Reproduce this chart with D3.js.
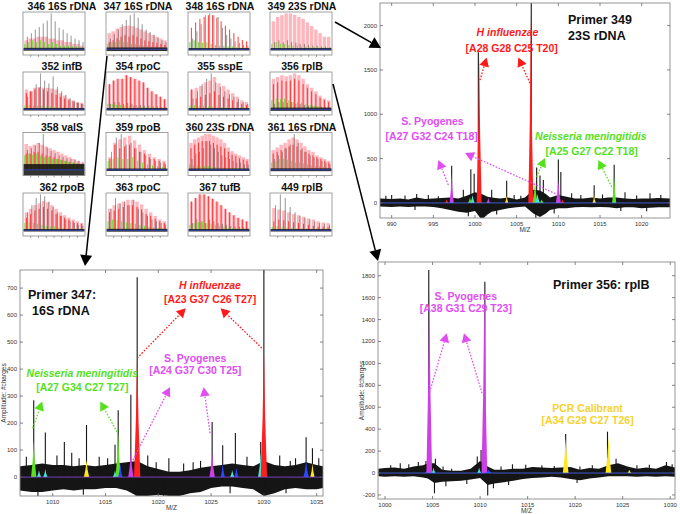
<!DOCTYPE html>
<html>
<head>
<meta charset="utf-8">
<script src="https://cdn.jsdelivr.net/npm/d3@7"></script>
<style>
  body { margin: 0; background: #fff; }
  text { font-family: "Liberation Sans", Arial, sans-serif; }
</style>
</head>
<body>
<svg id="fig" width="680" height="514"></svg>
<script>
// ---------- thumbnail data (heights as share of the panel height) ----------
const thumbTitles = ["346 16S rDNA", "347 16S rDNA", "348 16S rDNA", "349 23S rDNA",
                     "352 infB", "354 rpoC", "355 sspE", "356 rplB",
                     "358 valS", "359 rpoB", "360 23S rDNA", "361 16S rDNA",
                     "362 rpoB", "363 rpoC", "367 tufB", "449 rplB"];

const thumbPink = [
  [0.25,0.3,0.3,0.35,0.35,0.35,0.3,0.3,0.25,0.25,0.2,0.2,0.15,0.15,0.1],
  [0.45,0.5,0.58,0.62,0.65,0.66,0.64,0.6,0.55,0.5,0.45,0.4,0.35,0.3,0.25],
  [],
  [0.78,0.9,0.95,1.0,1.0,0.96,0.9,0.85,0.75,0.65,0.55,0.45,0.35,0.35],
  [0.55,0.5,0.6,0.62,0.6,0.6,0.58,0.55,0.45,0.38,0.3,0.25,0.2,0.18],
  [0.7,0.8,0.85,0.85,0.95,0.9,0.85,0.8,0.75,0.6,0.5,0.42,0.35,0.28],
  [0.55,0.6,0.65,0.75,0.8,0.9,0.72,0.65,0.55,0.45,0.35,0.25,0.2],
  [0.85,0.9,0.95,0.92,0.95,1.0,0.95,0.85,0.7,0.6,0.5,0.38,0.3,0.25],
  [0.72,0.66,0.7,0.75,0.7,0.65,0.6,0.55,0.5,0.45,0.4,0.35,0.3,0.25,0.2],
  [0.35,0.75,0.85,0.9,0.95,0.82,0.7,0.55,0.45,0.35,0.3,0.25],
  [0.75,0.85,0.9,0.95,1.0,1.0,0.95,0.9,0.85,0.75,0.62,0.52,0.45,0.4,0.35,0.3],
  [0.55,0.62,0.7,0.75,0.85,0.9,0.85,0.75,0.65,0.55,0.5,0.4,0.35,0.3,0.25],
  [0.5,0.6,0.7,0.75,0.82,0.78,0.7,0.6,0.5,0.42,0.35,0.3,0.25,0.2],
  [0.6,0.7,0.75,0.8,0.85,0.85,0.8,0.72,0.6,0.5,0.4,0.3,0.25],
  [0.8,0.9,1.0,1.0,0.95,0.88,0.8,0.7,0.6,0.5,0.42,0.35,0.3,0.25],
  [0.62,0.58,0.55,0.5,0.45,0.42,0.38,0.33,0.3,0.25,0.22,0.2]
];
const thumbRed = [
  [],
  [0.2,0.25,0.3,0.35,0.4,0.35,0.4,0.35,0.3,0.25,0.22,0.2,0.18,0.15,0.12],
  [0.6,0.75,0.85,0.9,0.95,0.95,0.88,0.78,0.66,0.55,0.45,0.35,0.26,0.22],
  [],
  [0.45,0.5,0.55,0.6,0.55,0.5,0.45,0.4,0.35,0.3,0.25,0.22,0.18,0.15],
  [0.7,0.8,0.85,0.85,0.95,0.9,0.85,0.8,0.75,0.6,0.5,0.42,0.35,0.28],
  [0.55,0.3,0.35,0.4,0.45,0.5,0.4,0.35,0.3,0.25,0.2,0.15,0.12],
  [0.7,0.75,0.8,0.78,0.8,0.85,0.8,0.7,0.6,0.5,0.42,0.32,0.26,0.2],
  [0.45,0.45,0.5,0.5,0.45,0.4,0.38,0.35,0.3,0.28,0.25,0.22,0.2,0.18,0.15],
  [0.3,0.7,0.6,0.65,0.7,0.6,0.5,0.45,0.35,0.3,0.25,0.2],
  [0.6,0.7,0.75,0.8,0.8,0.8,0.75,0.7,0.65,0.6,0.5,0.42,0.38,0.32,0.28,0.25],
  [0.45,0.5,0.55,0.6,0.65,0.7,0.65,0.55,0.5,0.45,0.4,0.35,0.3,0.25,0.2],
  [0.35,0.45,0.55,0.6,0.65,0.6,0.55,0.45,0.4,0.35,0.3,0.25,0.2,0.18],
  [0.5,0.55,0.6,0.65,0.7,0.7,0.65,0.58,0.45,0.4,0.32,0.25,0.2],
  [0.8,0.9,1.0,1.0,0.95,0.88,0.8,0.7,0.6,0.5,0.42,0.35,0.3,0.25],
  [0.25,0.3,0.28,0.25,0.22,0.2,0.18,0.15,0.12,0.1,0.1,0.08]
];
const thumbDark = [
  [0.35,0.45,0.55,0.62,0.72,0.8,1.0,0.78,0.6,0.55,0.45,0.38,0.3,0.25,0.2],
  [0.3,0.42,0.55,0.7,0.82,0.95,1.0,0.88,0.7,0.55,0.48,0.4,0.32,0.25,0.2],
  [0.3,0.5,0.7,0.95,1.0,0.95,0.9,0.6,0.4,0.3,0.22,0.18,0.12,0.1],
  [0.2,0.25,0.2,0.25,0.2,0.18,0.15,0.15,0.12,0.1,0.1,0.08,0.08,0.06],
  [0.35,0.5,0.7,1.0,0.8,0.72,0.92,0.62,0.5,0.4,0.3,0.22,0.18,0.15],
  [0.15,0.2,0.2,0.15,0.18,0.15,0.12,0.12,0.1,0.1,0.08,0.08,0.06,0.06],
  [0.3,0.5,0.7,0.85,1.0,0.75,0.62,0.5,0.42,0.35,0.28,0.2,0.15],
  [0.15,0.2,0.2,0.18,0.2,0.15,0.15,0.12,0.1,0.1,0.08,0.08,0.06,0.06],
  [0.55,0.6,0.68,0.75,1.0,0.62,0.52,0.46,0.4,0.36,0.32,0.3,0.28,0.25,0.22],
  [0.5,0.9,1.0,0.7,0.75,0.6,0.5,0.4,0.3,0.25,0.2,0.15],
  [0.3,0.45,0.5,0.6,0.8,0.7,0.6,0.5,0.4,0.35,0.3,0.25,0.2,0.2,0.15,0.15],
  [0.3,0.4,0.5,0.6,0.7,1.0,0.75,0.6,0.5,0.4,0.35,0.3,0.25,0.2,0.15],
  [0.5,0.7,0.9,1.0,0.95,0.8,0.65,0.5,0.4,0.3,0.25,0.2,0.15,0.12],
  [0.6,0.9,0.75,0.8,0.7,0.85,0.6,0.5,0.4,0.3,0.25,0.2,0.15],
  [0.2,0.3,0.25,0.2,0.3,0.25,0.2,0.18,0.15,0.12,0.1,0.1,0.08,0.06],
  [0.7,1.0,0.9,0.65,0.5,0.4,0.35,0.3,0.25,0.2,0.18,0.15]
];
const thumbGreen = [
  [0.15,0.2,0.25,0.2,0.25,0.2,0.15,0.2,0.15,0.1,0.1,0.1,0.08,0.08,0.05],
  [0.15,0.2,0.2,0.25,0.2,0.2,0.15,0.15,0.12,0.1,0.1,0.08,0.08,0.06,0.05],
  [0.2,0.25,0.2,0.18,0.2,0.15,0.12,0.1,0.1,0.08,0.08,0.06,0.05,0.05],
  [0.15,0.2,0.15,0.15,0.12,0.1,0.1,0.08,0.08,0.06,0.06,0.05,0.05,0.05],
  [0.1,0.12,0.1,0.1,0.1,0.08,0.08,0.06,0.06,0.05,0.05,0.05],
  [0.15,0.15,0.12,0.12,0.1,0.1,0.1,0.08,0.08,0.06,0.06,0.05,0.05,0.05],
  [0.1,0.12,0.1,0.1,0.08,0.08,0.06,0.06,0.05,0.05,0.05,0.05,0.05],
  [0.25,0.3,0.28,0.3,0.25,0.2,0.2,0.18,0.15,0.12,0.1,0.08,0.06,0.05],
  [0.4,0.45,0.42,0.45,0.4,0.35,0.35,0.3,0.3,0.28,0.25,0.22,0.2,0.18,0.15],
  [0.25,0.3,0.35,0.3,0.3,0.35,0.25,0.2,0.15,0.12,0.1,0.08],
  [0.15,0.12,0.12,0.1,0.1,0.1,0.08,0.08,0.06,0.06,0.05,0.05,0.05,0.05,0.05,0.05],
  [0.2,0.25,0.3,0.3,0.28,0.25,0.2,0.2,0.18,0.15,0.12,0.1,0.1,0.08,0.06],
  [0.2,0.22,0.2,0.18,0.15,0.12,0.1,0.1,0.08,0.08,0.06,0.05,0.05,0.05],
  [0.25,0.3,0.28,0.25,0.22,0.2,0.18,0.15,0.12,0.1,0.08,0.06,0.05],
  [0.15,0.2,0.22,0.25,0.2,0.18,0.15,0.12,0.1,0.08,0.06,0.05,0.05,0.05],
  [0.1,0.12,0.1,0.08,0.08,0.06,0.06,0.05,0.05,0.05,0.05,0.05]
];
const thumbNoise = [0.04,0.05,0.035,0.035,0.035,0.035,0.035,0.045,0.16,0.035,0.035,0.04,0.035,0.04,0.035,0.035];

// ---------- big spectra: [m/z, low, high] noise envelope ----------
const noise349 = [[988.6,-40,50],[990,-45,45],[991,-40,50],[992,-45,40],[993,-40,60],[994,-40,45],[995,-45,50],
  [996,-60,55],[997,-80,60],[998,-100,50],[999,-110,80],[1000,-90,120],[1000.8,-190,100],[1001.5,-130,70],
  [1002,-100,60],[1003,-80,50],[1004,-60,60],[1005,-50,40],[1006,-40,60],[1007,-120,150],[1007.8,-160,140],
  [1008.5,-120,100],[1009,-80,60],[1010,-60,90],[1011,-60,70],[1012,-50,50],[1013,-45,50],[1014,-50,60],
  [1015,-45,50],[1016,-50,60],[1017,-60,60],[1018,-50,50],[1019,-50,45],[1020,-60,50],[1021,-55,50],
  [1022,-50,55],[1023.4,-50,50]];
const noise347 = [[1006.9,-50,40],[1008,-55,45],[1009,-55,50],[1010,-50,45],[1011,-45,45],[1012,-50,40],
  [1013,-45,45],[1014,-45,40],[1015,-40,45],[1016,-40,50],[1017,-50,55],[1018,-70,60],[1019,-70,40],
  [1020,-65,30],[1021,-70,20],[1022,-70,20],[1023,-60,25],[1024,-55,35],[1025,-40,40],[1026,-35,45],
  [1027,-35,50],[1028,-40,45],[1029,-45,40],[1030,-70,60],[1031,-60,45],[1032,-45,40],[1033,-40,45],
  [1034,-45,55],[1035,-45,45],[1035.6,-40,40]];
const noise356 = [[999.3,-30,40],[1000,-35,45],[1001,-30,50],[1002,-35,40],[1003,-30,60],[1004,-40,70],
  [1004.5,-50,90],[1005.2,-90,90],[1006,-80,30],[1007,-75,20],[1008,-70,20],[1009,-60,40],[1010,-45,110],
  [1010.8,-110,60],[1011.5,-95,30],[1012.5,-85,30],[1013.5,-70,40],[1014.5,-55,40],[1015.5,-45,55],
  [1016.5,-40,50],[1017.5,-35,45],[1018.5,-40,50],[1019.5,-55,55],[1020.5,-65,30],[1021.5,-50,45],
  [1022.5,-40,40],[1023.5,-30,70],[1024.5,-30,90],[1025.5,-30,60],[1026.5,-35,40],[1027.5,-30,50],
  [1028.5,-35,40],[1029.5,-30,70],[1030.5,-35,50]];

// ---------- fitted peaks: [m/z, height, species, half width in m/z] ----------
const peaks349 = [[996.6,40,"r",0.2],[997.2,330,"m",0.25],[999.4,60,"g",0.25],[999.7,90,"c",0.25],
  [1000.5,1670,"r",0.3],[1001.6,60,"m",0.2],[1003.8,80,"y",0.2],[1006.7,2100,"r",0.3],[1007.2,250,"g",0.3],
  [1007.5,100,"c",0.3],[1008.0,40,"g",0.25],[1010.0,250,"m",0.3],[1010.5,40,"r",0.2],[1014.3,80,"y",0.2],
  [1016.7,300,"g",0.25]];
const peaks347 = [[1008.2,137,"g",0.25],[1008.7,25,"c",0.2],[1009.3,30,"c",0.2],[1013.2,63,"y",0.25],
  [1015.9,25,"c",0.2],[1016.2,163,"g",0.25],[1016.4,50,"b",0.2],[1017.4,92,"m",0.25],[1018.0,480,"r",0.3],
  [1025.1,92,"m",0.25],[1026.1,50,"b",0.2],[1027.0,25,"c",0.2],[1027.4,35,"b",0.2],[1029.7,90,"c",0.25],
  [1030.0,490,"r",0.3],[1034.0,60,"b",0.25],[1034.6,50,"y",0.2]];
const peaks356 = [[1004.5,40,"b",0.3],[1004.65,1700,"m",0.3],[1005.1,50,"c",0.2],[1009.9,50,"c",0.2],
  [1010.45,1700,"m",0.3],[1010.9,30,"b",0.3],[1019.0,316,"y",0.3],[1023.5,331,"y",0.3],[1025.7,30,"y",0.2]];

// raw-trace spikes: [m/z, top] (negative = downward)
const spikes349 = [[997.2,420],[999.5,380],[999.9,330],[1000.4,1700],[1006.75,2300],[1007.4,400],[1007.8,310],
  [1008.2,260],[1010.0,490],[1010.3,350],[1003.8,250],[1014.3,200],[1016.7,430],[1002.0,150],[998.6,150],
  [1018,120],[993,100],[990,90],[1021,110],[989.3,80],[991.6,85],[994.4,90],[995.6,75],[1004.7,90],
  [1005.5,80],[1011.6,110],[1012.7,90],[1015.3,95],[1019.4,85],[1022.3,90],[1000.9,-250],[1007.3,-200],
  [999.2,-150],[1002.6,-130],[1009.5,-120],[992.8,-80],[1017.5,-90],[1020.6,-95]];
const spikes347 = [[1008.2,285],[1009.3,165],[1011.1,130],[1013.2,193],[1016.2,248],[1017.4,305],[1018.0,740],
  [1025.1,204],[1026.1,118],[1027.3,163],[1030.0,790],[1029.7,130],[1034.0,148],[1034.6,107],[1015.9,120],
  [1011.8,90],[1021,70],[1031.5,80],[1033,70],[1024,60],[1019,80],[1012.5,70],[1032.5,60],[1007.5,75],
  [1010.4,80],[1014.4,75],[1015.2,70],[1019.8,55],[1022.4,50],[1023.3,55],[1028.4,75],[1035.2,70],
  [1018.2,-70],[1030.1,-70],[1017.9,-70],[1020.5,-70],[1008.6,-70],[1012.9,-65],[1026.8,-60],[1032.1,-60]];
const spikes356 = [[1004.6,1851],[1010.5,1744],[1005.3,130],[1004.3,110],[1010.1,210],[1009.7,150],[1019.0,355],
  [1023.4,377],[1001.6,90],[1003.5,100],[1013.4,80],[1016.5,70],[1024.3,130],[1026.5,70],[1029.6,100],
  [1020.5,60],[1007,40],[1002.5,80],[1000.6,70],[1006.1,60],[1012.2,60],[1014.8,75],[1017.8,65],
  [1021.8,70],[1027.8,75],[1030.2,80],[1005.2,-185],[1010.8,-205],[1011.4,-140],[1006.4,-120],
  [1013.0,-110],[1020.2,-90],[1008.6,-100]];

const xTicks349 = [990,995,1000,1005,1010,1015,1020];
const yTicks349 = [0,500,1000,1500,2000];
const xTicks347 = [1010,1015,1020,1025,1030,1035];
const yTicks347 = [0,100,200,300,400,500,600,700];
const xTicks356 = [1000,1005,1010,1015,1020,1025,1030];
const yTicks356 = [-200,0,200,400,600,800,1000,1200,1400,1600,1800];

const speciesColor = {r:"#ff1f1f", m:"#cf3fe6", g:"#5ae020", y:"#ffe81a", c:"#45e6d6", b:"#2a46ff"};
const textColor = {r:"#ff1a1a", m:"#e04ef2", g:"#55e01e", y:"#f5d22e"};

const svg = d3.select("#fig");

// ---------- thumbnails ----------
const thumbCols = [23, 106, 188, 270];
const thumbRows = [12, 72, 132.5, 193];
const thumbW = 62, thumbH = 43;

thumbTitles.forEach((title, i) => {
  const col = i % 4, row = Math.floor(i / 4);
  const g = svg.append("g").attr("transform", `translate(${thumbCols[col]},${thumbRows[row]})`);
  const n = d3.max([thumbPink[i].length, thumbRed[i].length, thumbDark[i].length]);
  const x = d3.scaleLinear().domain([-0.8, n - 0.2]).range([0, thumbW]);
  const y = d3.scaleLinear().domain([-0.16, 1.04]).range([thumbH, 0]);

  g.selectAll(".pk").data(thumbPink[i]).join("rect")
    .attr("x", (d, j) => x(j) - 1.7).attr("width", 3.4)
    .attr("y", d => y(d)).attr("height", d => y(0) - y(d))
    .attr("fill", "#ffb6bd");
  g.selectAll(".dk").data(thumbDark[i]).join("line")
    .attr("x1", (d, j) => x(j + 0.3)).attr("x2", (d, j) => x(j + 0.3))
    .attr("y1", y(0)).attr("y2", d => y(d))
    .attr("stroke", "#444").attr("stroke-width", 0.8).attr("opacity", 0.7);
  g.selectAll(".rd").data(thumbRed[i]).join("line")
    .attr("x1", (d, j) => x(j)).attr("x2", (d, j) => x(j))
    .attr("y1", y(0)).attr("y2", d => y(d))
    .attr("stroke", "#ff2525").attr("stroke-width", 0.9);
  g.selectAll(".gr").data(thumbGreen[i]).join("line")
    .attr("x1", (d, j) => x(j - 0.35)).attr("x2", (d, j) => x(j - 0.35))
    .attr("y1", y(0)).attr("y2", d => y(d))
    .attr("stroke", "#66e030").attr("stroke-width", 1);
  // noisy baseline band
  g.append("rect").attr("x", 0.5).attr("width", thumbW - 1)
    .attr("y", y(thumbNoise[i])).attr("height", y(-thumbNoise[i]) - y(thumbNoise[i]))
    .attr("fill", "#111").attr("opacity", 0.85);
  g.append("line").attr("x1", 0).attr("x2", thumbW).attr("y1", y(0)).attr("y2", y(0))
    .attr("stroke", "#3050ff").attr("stroke-width", 0.6);
  // frame and small ticks
  g.append("rect").attr("width", thumbW).attr("height", thumbH)
    .attr("fill", "none").attr("stroke", "#8a8a8a").attr("stroke-width", 0.8);
  g.selectAll(".tk").data(d3.range(1, 8)).join("line")
    .attr("x1", d => d * thumbW / 8).attr("x2", d => d * thumbW / 8)
    .attr("y1", thumbH).attr("y2", thumbH + 2)
    .attr("stroke", "#666").attr("stroke-width", 0.6);
  svg.append("text")
    .attr("x", thumbCols[col] + thumbW / 2 + (col === 0 ? 8 : 1))
    .attr("y", thumbRows[row] - 2)
    .attr("text-anchor", "middle").attr("font-size", 10.5).attr("font-weight", "bold")
    .attr("fill", "#111").text(title);
});

// ---------- big panels ----------
function arrowHead(g, p0, p1, color, size) {
  const a = Math.atan2(p1[1] - p0[1], p1[0] - p0[0]);
  const bx = p1[0] - size * Math.cos(a), by = p1[1] - size * Math.sin(a);
  const w = size * 0.55;
  const pts = [p1, [bx + w * Math.sin(a), by - w * Math.cos(a)], [bx - w * Math.sin(a), by + w * Math.cos(a)]];
  g.append("path").attr("d", "M" + pts.join("L") + "Z").attr("fill", color);
  return [bx, by];
}

function drawPanel(cfg, id) {
  const x = d3.scaleLinear().domain(cfg.xDom).range([cfg.box[0], cfg.box[2]]);
  const y = d3.scaleLinear().domain(cfg.yDom).range([cfg.box[3], cfg.box[1]]);
  const g = svg.append("g");
  svg.append("clipPath").attr("id", "clip" + id).append("rect")
    .attr("x", cfg.box[0]).attr("y", cfg.box[1])
    .attr("width", cfg.box[2] - cfg.box[0]).attr("height", cfg.box[3] - cfg.box[1]);
  const plot = g.append("g").attr("clip-path", `url(#clip${id})`);

  plot.append("path").datum(cfg.noise)
    .attr("d", d3.area().x(d => x(d[0])).y0(d => y(d[1])).y1(d => y(d[2])))
    .attr("fill", "#151515");
  plot.selectAll(".sp").data(cfg.spikes).join("line")
    .attr("x1", d => x(d[0])).attr("x2", d => x(d[0]))
    .attr("y1", y(0)).attr("y2", d => y(d[1]))
    .attr("stroke", "#151515").attr("stroke-width", 1.1);
  plot.selectAll(".pk").data(cfg.peaks).join("path")
    .attr("d", d => {
      const [m, h, , w] = d;
      return "M" + [[x(m - w), y(0)], [x(m - w * 0.4), y(h * 0.45)], [x(m), y(h)],
                    [x(m + w * 0.4), y(h * 0.45)], [x(m + w), y(0)]].join("L") + "Z";
    })
    .attr("fill", d => speciesColor[d[2]]);
  plot.append("line").attr("x1", cfg.box[0]).attr("x2", cfg.box[2])
    .attr("y1", y(0)).attr("y2", y(0))
    .attr("stroke", cfg.zeroColor).attr("stroke-width", 0.8);

  // frame with inward ticks
  g.append("rect").attr("x", cfg.box[0]).attr("y", cfg.box[1])
    .attr("width", cfg.box[2] - cfg.box[0]).attr("height", cfg.box[3] - cfg.box[1])
    .attr("fill", "none").attr("stroke", "#8a8a8a").attr("stroke-width", 0.9);
  cfg.xTicks.forEach(t => {
    g.append("line").attr("x1", x(t)).attr("x2", x(t)).attr("y1", cfg.box[3]).attr("y2", cfg.box[3] - 3)
      .attr("stroke", "#555").attr("stroke-width", 0.7);
    g.append("line").attr("x1", x(t)).attr("x2", x(t)).attr("y1", cfg.box[1]).attr("y2", cfg.box[1] + 3)
      .attr("stroke", "#555").attr("stroke-width", 0.7);
    g.append("text").attr("x", x(t)).attr("y", cfg.box[3] + 8).attr("text-anchor", "middle")
      .attr("font-size", 6).attr("fill", "#333").text(t);
  });
  cfg.yTicks.forEach(t => {
    g.append("line").attr("x1", cfg.box[0]).attr("x2", cfg.box[0] + 3).attr("y1", y(t)).attr("y2", y(t))
      .attr("stroke", "#555").attr("stroke-width", 0.7);
    g.append("line").attr("x1", cfg.box[2]).attr("x2", cfg.box[2] - 3).attr("y1", y(t)).attr("y2", y(t))
      .attr("stroke", "#555").attr("stroke-width", 0.7);
    g.append("text").attr("x", cfg.box[0] - 3).attr("y", y(t) + 2).attr("text-anchor", "end")
      .attr("font-size", 6).attr("fill", "#333").text(t);
  });
  g.append("text").attr("x", (cfg.box[0] + cfg.box[2]) / 2).attr("y", cfg.box[3] + 14)
    .attr("text-anchor", "middle").attr("font-size", 6.5).attr("fill", "#333").text("M/Z");
  if (cfg.yLabel) {
    g.append("text").attr("transform", `translate(${cfg.box[0] - 14},${(cfg.box[1] + cfg.box[3]) / 2 + 10}) rotate(-90)`)
      .attr("text-anchor", "middle").attr("font-size", 6.5).attr("fill", "#333").text("Amplitude: #charges");
  }

  // primer title
  cfg.title.forEach((t, k) => {
    g.append("text").attr("x", cfg.titlePos[0] + (k ? cfg.titleIndent : 0)).attr("y", cfg.titlePos[1] + k * 16)
      .attr("font-size", 12.5).attr("font-weight", "bold").attr("fill", "#111").text(t);
  });
  // species labels
  cfg.labels.forEach(l => {
    g.append("text").attr("x", x(l.at[0])).attr("y", y(l.at[1])).attr("text-anchor", "middle")
      .attr("font-size", 10.5).attr("font-weight", "bold")
      .attr("font-style", l.italic ? "italic" : "normal")
      .attr("fill", textColor[l.c]).text(l.text);
  });
  // dotted pointers
  cfg.pointers.forEach(p => {
    const p0 = [x(p.from[0]), y(p.from[1])], p1 = [x(p.to[0]), y(p.to[1])];
    const base = arrowHead(g, p0, p1, textColor[p.c], 9);
    g.append("line").attr("x1", p0[0]).attr("y1", p0[1]).attr("x2", base[0]).attr("y2", base[1])
      .attr("stroke", textColor[p.c]).attr("stroke-width", 1.3).attr("stroke-dasharray", "1.6,1.6");
  });
}

drawPanel({
  box: [380, 3, 670, 218], xDom: [988.6, 1023.4], yDom: [-170, 2255],
  noise: noise349, peaks: peaks349, spikes: spikes349, zeroColor: "#4a6cff",
  xTicks: xTicks349, yTicks: yTicks349, yLabel: false,
  title: ["Primer 349", "23S rDNA"], titlePos: [568, 24], titleIndent: 0,
  labels: [
    {text: "H influenzae", at: [1003.9, 1880], c: "r", italic: true},
    {text: "[A28 G28 C25 T20]", at: [1004.4, 1700], c: "r"},
    {text: "S. Pyogenes", at: [994.9, 880], c: "m"},
    {text: "[A27 G32 C24 T18]", at: [994.8, 715], c: "m"},
    {text: "Neisseria meningitidis", at: [1013.9, 715], c: "g", italic: true},
    {text: "[A25 G27 C22 T18]", at: [1014.0, 545], c: "g"}
  ],
  pointers: [
    {from: [1000.6, 1385], to: [1001.4, 1640], c: "r"},
    {from: [1006.6, 1351], to: [1005.2, 1640], c: "r"},
    {from: [996.8, 203], to: [995.6, 484], c: "m"},
    {from: [1010.0, 90], to: [998.8, 563], c: "m"},
    {from: [1007.4, 293], to: [1008.4, 507], c: "g"},
    {from: [1016.4, 180], to: [1014.8, 484], c: "g"}
  ]
}, 349);

drawPanel({
  box: [20, 270, 323, 496], xDom: [1006.9, 1035.6], yDom: [-70, 767],
  noise: noise347, peaks: peaks347, spikes: spikes347, zeroColor: "#8a4ce6",
  xTicks: xTicks347, yTicks: yTicks347, yLabel: true,
  title: ["Primer 347:", "16S rDNA"], titlePos: [28, 299], titleIndent: 4,
  labels: [
    {text: "H influenzae", at: [1024.9, 695], c: "r", italic: true},
    {text: "[A23 G37 C26 T27]", at: [1024.9, 643], c: "r"},
    {text: "S. Pyogenes", at: [1023.5, 425], c: "m"},
    {text: "[A24 G37 C30 T25]", at: [1023.5, 383], c: "m"},
    {text: "Neisseria meningitidis", at: [1012.8, 370], c: "g", italic: true},
    {text: "[A27 G34 C27 T27]", at: [1012.8, 318], c: "g"}
  ],
  pointers: [
    {from: [1018.0, 441], to: [1022.6, 625], c: "r"},
    {from: [1029.8, 478], to: [1025.9, 625], c: "r"},
    {from: [1017.6, 63], to: [1021.1, 333], c: "m"},
    {from: [1024.9, 163], to: [1024.3, 333], c: "m"},
    {from: [1008.1, 181], to: [1009.0, 280], c: "g"},
    {from: [1016.1, 167], to: [1014.5, 280], c: "g"}
  ]
}, 347);

drawPanel({
  box: [378, 262, 675, 499], xDom: [999.26, 1030.5], yDom: [-237, 1925],
  noise: noise356, peaks: peaks356, spikes: spikes356, zeroColor: "#4a6cff",
  xTicks: xTicks356, yTicks: yTicks356, yLabel: true,
  title: ["Primer 356: rplB"], titlePos: [553, 289], titleIndent: 0,
  labels: [
    {text: "S. Pyogenes", at: [1008.5, 1580], c: "m"},
    {text: "[A38 G31 C29 T23]", at: [1008.5, 1470], c: "m"},
    {text: "PCR Calibrant", at: [1021.3, 560], c: "y"},
    {text: "[A34 G29 C27 T26]", at: [1021.3, 450], c: "y"}
  ],
  pointers: [
    {from: [1004.6, 711], to: [1006.5, 1275], c: "m"},
    {from: [1010.2, 729], to: [1008.3, 1275], c: "m"}
  ]
}, 356);

// ---------- connectors from thumbnails to zoomed panels ----------
const connectors = [
  {from: [thumbCols[3] + thumbW + 3, 22], to: [381, 48]},
  {from: [thumbCols[1] + 1, thumbRows[0] + thumbH + 1], to: [85, 266]},
  {from: [thumbCols[3] + thumbW + 1, 84], to: [378, 261]}
];
connectors.forEach(c => {
  const base = arrowHead(svg, c.from, c.to, "#000", 11);
  svg.append("line").attr("x1", c.from[0]).attr("y1", c.from[1]).attr("x2", base[0]).attr("y2", base[1])
    .attr("stroke", "#000").attr("stroke-width", 1.5);
});
</script>
</body>
</html>
